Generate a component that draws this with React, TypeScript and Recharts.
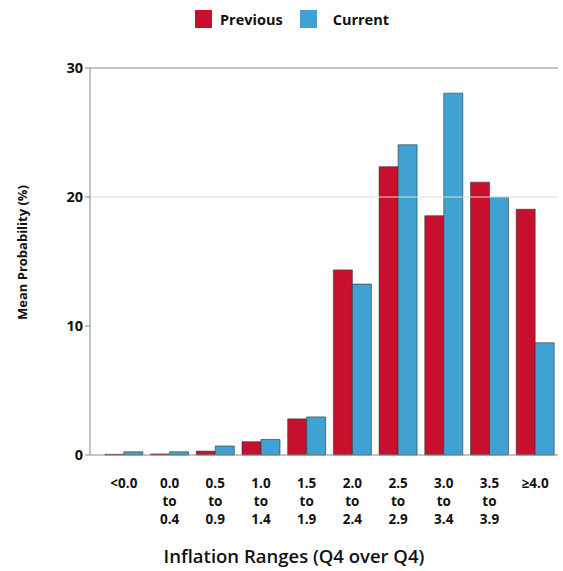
import React from "react";
import { BarChart, Bar, XAxis, YAxis, ReferenceLine, Legend, Label } from "recharts";

const categories = ["<0.0", "0.0\nto\n0.4", "0.5\nto\n0.9", "1.0\nto\n1.4", "1.5\nto\n1.9", "2.0\nto\n2.4", "2.5\nto\n2.9", "3.0\nto\n3.4", "3.5\nto\n3.9", "≥4.0"];
const previous = [0.05, 0.08, 0.3, 1.03, 2.8, 14.35, 22.35, 18.55, 21.15, 19.05];
const current = [0.25, 0.25, 0.7, 1.2, 2.95, 13.25, 24.05, 28.05, 19.97, 8.7];
const yTicks = [0, 10, 20, 30];
const seriesNames = ["Previous", "Current"];
const colors = ["#C8102E", "#3FA2D3"];
const xTitle = "Inflation Ranges (Q4 over Q4)";
const yTitle = "Mean Probability (%)";

const data = categories.map((c, i) => ({ cat: c, Previous: previous[i], Current: current[i] }));

const FONT = "'Open Sans', sans-serif";

const XTick = (props: any) => {
  const { x, y, payload } = props;
  const lines = String(payload.value).split("\n");
  return (
    <g transform={`translate(${x},${y})`}>
      {lines.map((l, i) => (
        <text key={i} x={0} y={0} dy={25 + i * 18} textAnchor="middle" fontFamily={FONT} fontWeight={700} fontSize={13.5} fill="#111">
          {l}
        </text>
      ))}
    </g>
  );
};

const LegendContent = () => (
  <div style={{ display: "flex", justifyContent: "center", alignItems: "center", height: 30, paddingRight: 14, fontFamily: FONT, fontWeight: 700, fontSize: 14.5, color: "#111" }}>
    {seriesNames.map((n, i) => (
      <div key={n} style={{ display: "flex", alignItems: "center", marginLeft: i === 0 ? 0 : 17 }}>
        <div style={{ width: 17, height: 18, background: colors[i], marginRight: i === 0 ? 8 : 16 }} />
        <span>{n}</span>
      </div>
    ))}
  </div>
);

const XTitle = (props: any) => {
  const { viewBox } = props;
  const cx = viewBox.x + viewBox.width / 2 - 30;
  return (
    <text x={cx} y={563} textAnchor="middle" fontFamily={FONT} fontSize={18.5} fontWeight={600} fill="#111">
      {xTitle}
    </text>
  );
};

const YTitle = (props: any) => {
  const { viewBox } = props;
  const cy = viewBox.y + viewBox.height / 2 - 9;
  const cx = 22;
  return (
    <text x={cx} y={cy} transform={`rotate(-90 ${cx} ${cy})`} textAnchor="middle" dominantBaseline="central" fontFamily={FONT} fontSize={13} fontWeight={700} fill="#111">
      {yTitle}
    </text>
  );
};

export default function App() {
  return (
    <div style={{ position: "absolute", left: 0, top: 0, width: 563, height: 571, background: "#fff" }}>
      <BarChart
        width={563}
        height={571}
        data={data}
        margin={{ top: 38, right: 5, bottom: 0, left: 40 }}
        barCategoryGap="8.5%"
        barGap={0}
      >
        <Legend verticalAlign="top" align="center" height={30} wrapperStyle={{ top: 4 }} content={<LegendContent />} />
        <ReferenceLine y={20} stroke="#dcdcdc" strokeWidth={1} />
        <ReferenceLine y={30} stroke="#888" strokeWidth={1} />
        <XAxis
          dataKey="cat"
          interval={0}
          tickLine={false}
          axisLine={{ stroke: "#888" }}
          tick={<XTick />}
          height={116}
          padding={{ left: 11, right: 0 }}
        >
          <Label content={<XTitle />} />
        </XAxis>
        <YAxis
          domain={[0, 30]}
          ticks={yTicks}
          width={50}
          axisLine={{ stroke: "#888" }}
          tickLine={{ stroke: "#888" }}
          tickSize={5}
          tick={{ fontFamily: FONT, fontWeight: 700, fontSize: 14.5, fill: "#111" }}
        >
          <Label content={<YTitle />} />
        </YAxis>
        <Bar dataKey="Previous" fill={colors[0]} stroke="#333" strokeWidth={0.6} isAnimationActive={false} />
        <Bar dataKey="Current" fill={colors[1]} stroke="#333" strokeWidth={0.6} isAnimationActive={false} />
      </BarChart>
    </div>
  );
}
